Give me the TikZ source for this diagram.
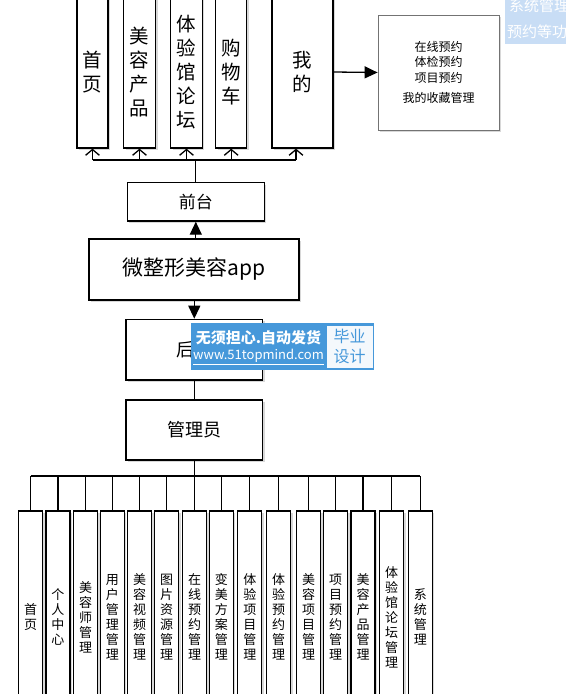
\documentclass[tikz,border=0pt]{standalone}
\usepackage{fontspec}
\setmainfont{Noto Sans CJK SC}
\usetikzlibrary{arrows.meta,shadows,calc}
\definecolor{wmblue}{RGB}{70,152,218}
\definecolor{hlblue}{RGB}{200,221,245}
\definecolor{wmwhite}{RGB}{244,248,252}
\begin{document}
\begin{tikzpicture}[x=1pt,y=-1pt,
  box/.style={draw=black, line width=1.3pt, fill=white,
    drop shadow={shadow xshift=2pt, shadow yshift=-2pt, opacity=0.3, fill=gray}},
  topbox/.style={box, minimum height=152pt, inner sep=0pt, align=center,
    font=\fontsize{19.5}{24}\selectfont},
  lowbox/.style={box, minimum width=24pt, minimum height=212pt, inner sep=0pt,
    align=center, font=\fontsize{13}{15}\selectfont},
  midbox/.style={box, inner sep=0pt},
  conn/.style={draw=black, line width=1.3pt},
  openarrow/.style={conn, -{Straight Barb[angle=100:9pt]}},
  fillarrow/.style={conn, -{Triangle[length=13pt,width=12pt]}}
]
\useasboundingbox (0,0) rectangle (566,694);
\clip (0,0) rectangle (566,694);
\fill[white] (0,0) rectangle (566,694);

% top row
\node[topbox, minimum width=31pt] (t1) at (92.5,72) {首\\页};
\node[topbox, minimum width=32pt] (t2) at (139.5,72) {美\\容\\产\\品};
\node[topbox, minimum width=31.6pt] (t3) at (186.5,72) {体\\验\\馆\\论\\坛};
\node[topbox, minimum width=31pt] (t4) at (231.2,72) {购\\物\\车};
\node[topbox, minimum width=61pt] (t5) at (302.5,72) {我\\的};

\node[box, draw=black!55, line width=0.8pt, minimum width=121pt, minimum height=115pt,
  inner sep=0pt, align=center, font=\fontsize{12}{15.5}\selectfont] (r) at (438.5,72.5)
  {在线预约\\体检预约\\项目预约\\[5pt]我的收藏管理};

\node[midbox, minimum width=137pt, minimum height=38.3pt, font=\fontsize{17}{17}\selectfont] (f) at (195.8,201.9) {前台};
\node[midbox, minimum width=210pt, minimum height=61pt, font=\fontsize{21}{21}\selectfont] (a) at (194,269.5) {微整形美容app};
\node[midbox, minimum width=136.7pt, minimum height=60.7pt, font=\fontsize{18}{18}\selectfont] (b) at (194.3,349.7) {后台};
\node[midbox, minimum width=136.7pt, minimum height=60pt, font=\fontsize{18}{18}\selectfont] (m) at (194.3,430) {管理员};

% bottom row
\node[lowbox] (l1) at (30.7,617) {首\\页};
\node[lowbox] (l2) at (57.9,617) {个\\人\\中\\心};
\node[lowbox] (l3) at (85.5,617) {美\\容\\师\\管\\理};
\node[lowbox] (l4) at (112.3,617) {用\\户\\管\\理\\管\\理};
\node[lowbox] (l5) at (139.5,617) {美\\容\\视\\频\\管\\理};
\node[lowbox] (l6) at (166.5,617) {图\\片\\资\\源\\管\\理};
\node[lowbox] (l7) at (194.5,617) {在\\线\\预\\约\\管\\理};
\node[lowbox] (l8) at (221.3,617) {变\\美\\方\\案\\管\\理};
\node[lowbox] (l9) at (249.8,617) {体\\验\\项\\目\\管\\理};
\node[lowbox] (l10) at (278.7,617) {体\\验\\预\\约\\管\\理};
\node[lowbox] (l11) at (308.7,617) {美\\容\\项\\目\\管\\理};
\node[lowbox] (l12) at (335.7,617) {项\\目\\预\\约\\管\\理};
\node[lowbox] (l13) at (363,617) {美\\容\\产\\品\\管\\理};
\node[lowbox] (l14) at (391.7,617) {体\\验\\馆\\论\\坛\\管\\理};
\node[lowbox] (l15) at (420.3,617) {系\\统\\管\\理};

% top connectors
\coordinate (tb) at (195.8,160);
\coordinate (k5) at (296,160);
\draw[conn] (t1.south |- tb) -- (k5);
\draw[conn] (f.north) -- (f.north |- tb);
\foreach \i in {1,2,3,4} { \draw[openarrow] (t\i.south |- tb) -- (t\i.south); }
\draw[openarrow] (k5) -- (k5 |- t5.south);
\draw[fillarrow] (t5.east) -- (r.west);

% middle connectors
\draw[fillarrow] (f.south |- a.north) -- (f.south);
\draw[fillarrow] (a.south -| b.north) -- (b.north);
\draw[conn] (b.south) -- (m.north);

% bottom connectors
\coordinate (lb) at (194.3,476);
\draw[conn] (m.south) -- (m.south |- lb);
\draw[conn] (l1.north |- lb) -- (l15.north |- lb);
\foreach \i in {1,...,15} { \draw[conn] (l\i.north |- lb) -- (l\i.north); }

% watermark
\fill[wmblue] (191,323.3) rectangle (374.3,370);
\fill[wmwhite] (327,325.5) rectangle (372.5,368);
\node[text=white, inner sep=0pt, font=\fontsize{15}{15}\selectfont\bfseries] (w1) at (258.5,338) {无须担心.自动发货};
\node[text=white, inner sep=0pt, font=\fontsize{13}{13}\selectfont] (w2) at (258.5,357) {\underline{www.51topmind.com}};
\node[text=wmblue, inner sep=0pt, align=center, font=\fontsize{16}{20}\selectfont] (w3) at (349.7,346.5) {毕业\\设计};

% top-right highlight
\fill[hlblue] (505,0) rectangle (566,44);
\node[anchor=west, text=white, inner sep=0pt, font=\fontsize{15}{15}\selectfont] (h1) at (509,6) {系统管理};
\node[anchor=west, text=white, inner sep=0pt, font=\fontsize{15}{15}\selectfont] (h2) at (507,32) {预约等功能};
\end{tikzpicture}
\end{document}
